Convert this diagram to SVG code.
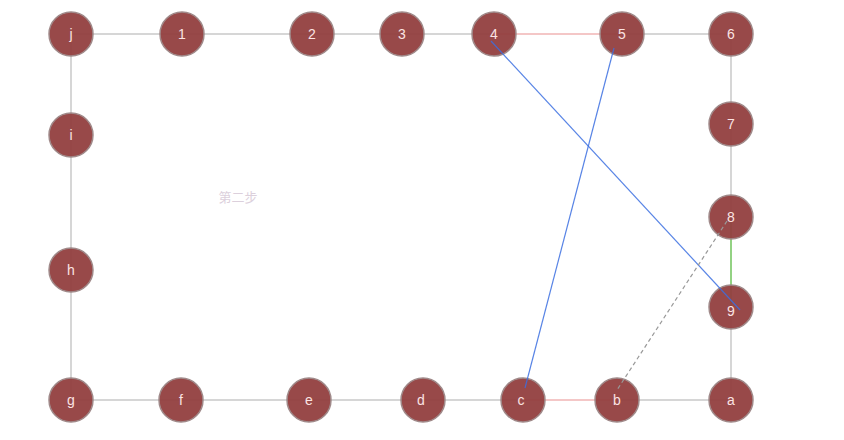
<svg xmlns="http://www.w3.org/2000/svg" width="844" height="440" viewBox="0 0 844 440">
<style>
.e{stroke:#c8c8c8;stroke-width:1.5;fill:none}
.r{stroke:#f0b4b4;stroke-width:1.5}
.g{stroke:#6fc35a;stroke-width:1.5}
.b{stroke:#3b6fe0;stroke-width:1.2}
.d{stroke:#999;stroke-width:1.2;stroke-dasharray:4 3}
.n circle{fill:#923f3f;fill-opacity:0.95;stroke:#a08a8a;stroke-width:1.5}
.n text{fill:#fbe3e3;font-family:"Liberation Sans",Arial,sans-serif;font-size:14px;text-anchor:middle;dominant-baseline:central}
</style>
<rect width="844" height="440" fill="#fff"/>
<g id="connectors">
<line class="e" x1="71" y1="34" x2="182" y2="34"/>
<line class="e" x1="182" y1="34" x2="312" y2="34"/>
<line class="e" x1="312" y1="34" x2="402" y2="34"/>
<line class="e" x1="402" y1="34" x2="494" y2="34"/>
<line class="r" x1="494" y1="34" x2="622" y2="34"/>
<line class="e" x1="622" y1="34" x2="731" y2="34"/>
<line class="e" x1="731" y1="34" x2="731" y2="124"/>
<line class="e" x1="731" y1="124" x2="731" y2="217"/>
<line class="g" x1="731" y1="217" x2="731" y2="307"/>
<line class="e" x1="731" y1="307" x2="731" y2="400"/>
<line class="e" x1="731" y1="400" x2="617" y2="400"/>
<line class="r" x1="617" y1="400" x2="523" y2="400"/>
<line class="e" x1="523" y1="400" x2="423" y2="400"/>
<line class="e" x1="423" y1="400" x2="309" y2="400"/>
<line class="e" x1="309" y1="400" x2="181" y2="400"/>
<line class="e" x1="181" y1="400" x2="71" y2="400"/>
<line class="e" x1="71" y1="400" x2="71" y2="270"/>
<line class="e" x1="71" y1="270" x2="71" y2="135"/>
<line class="e" x1="71" y1="135" x2="71" y2="34"/>
</g>
<g id="node-j" class="n"><circle cx="71" cy="34" r="22"/><text x="71" y="34">j</text></g>
<g id="node-1" class="n"><circle cx="182" cy="34" r="22"/><text x="182" y="34">1</text></g>
<g id="node-2" class="n"><circle cx="312" cy="34" r="22"/><text x="312" y="34">2</text></g>
<g id="node-3" class="n"><circle cx="402" cy="34" r="22"/><text x="402" y="34">3</text></g>
<g id="node-4" class="n"><circle cx="494" cy="34" r="22"/><text x="494" y="34">4</text></g>
<g id="node-5" class="n"><circle cx="622" cy="34" r="22"/><text x="622" y="34">5</text></g>
<g id="node-6" class="n"><circle cx="731" cy="34" r="22"/><text x="731" y="34">6</text></g>
<g id="node-7" class="n"><circle cx="731" cy="124" r="22"/><text x="731" y="124">7</text></g>
<g id="node-8" class="n"><circle cx="731" cy="217" r="22"/><text x="731" y="217">8</text></g>
<g id="node-9" class="n"><circle cx="731" cy="307" r="22"/><text x="731" y="311">9</text></g>
<g id="node-a" class="n"><circle cx="731" cy="400" r="22"/><text x="731" y="400">a</text></g>
<g id="node-b" class="n"><circle cx="617" cy="400" r="22"/><text x="617" y="400">b</text></g>
<g id="node-c" class="n"><circle cx="523" cy="400" r="22"/><text x="521" y="400">c</text></g>
<g id="node-d" class="n"><circle cx="423" cy="400" r="22"/><text x="421" y="400">d</text></g>
<g id="node-e" class="n"><circle cx="309" cy="400" r="22"/><text x="309" y="400">e</text></g>
<g id="node-f" class="n"><circle cx="181" cy="400" r="22"/><text x="181" y="400">f</text></g>
<g id="node-g" class="n"><circle cx="71" cy="400" r="22"/><text x="71" y="400">g</text></g>
<g id="node-h" class="n"><circle cx="71" cy="270" r="22"/><text x="71" y="270">h</text></g>
<g id="node-i" class="n"><circle cx="71" cy="135" r="22"/><text x="71" y="135">i</text></g>
<g id="overlay-connectors">
<line class="b" x1="491" y1="41" x2="740" y2="310" stroke-opacity="0.85"/>
<line class="b" x1="614" y1="48" x2="525" y2="388" stroke-opacity="0.85"/>
<line class="d" x1="727" y1="221" x2="617" y2="390"/>
</g>
<text x="238" y="196" fill="#dcd0dc" font-family="'Noto Sans CJK SC',sans-serif" font-size="13" text-anchor="middle" dominant-baseline="central">第二步</text>
</svg>
